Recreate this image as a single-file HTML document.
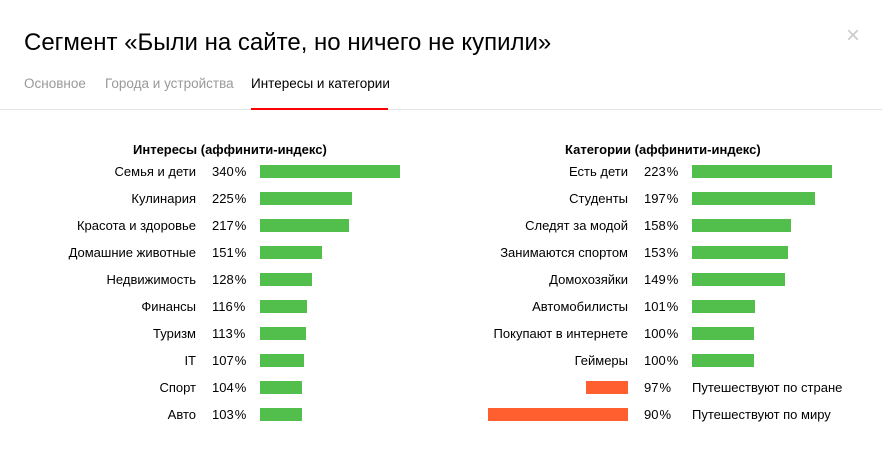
<!DOCTYPE html>
<html><head><meta charset="utf-8"><style>
body{margin:0;width:882px;height:456px;background:#fff;font-family:"Liberation Sans",Arial,sans-serif;color:#000;position:relative;overflow:hidden}
.a{position:absolute;white-space:nowrap}
.t{font-size:13px;line-height:16px}
.r{text-align:right}
.g{background:#52bf4c;height:13px;position:absolute}
.o{background:#ff5f2e;height:13px;position:absolute}
</style></head><body>
<div class="a" style="left:24px;top:28px;font-size:24px;line-height:30px">Сегмент «Были на сайте, но ничего не купили»</div>
<div class="a" style="left:846px;top:22px;font-size:24px;color:#ccc">×</div>
<div class="a" style="left:24px;top:76px;font-size:13.5px;color:#999">Основное</div>
<div class="a" style="left:105px;top:76px;font-size:13.5px;color:#999">Города и устройства</div>
<div class="a" style="left:251px;top:76px;font-size:13.5px;color:#000">Интересы и категории</div>
<div class="a" style="left:0;top:109px;width:882px;height:1px;background:#e5e5e5"></div>
<div class="a" style="left:251px;top:108px;width:137px;height:2px;background:#f00"></div>
<div class="a t" style="left:133px;top:142px;font-weight:bold">Интересы (аффинити-индекс)</div>
<div class="a t" style="left:565px;top:142px;font-weight:bold">Категории (аффинити-индекс)</div>
<div id="c"></div>
<script>
var L=[["Семья и дети","340",140],["Кулинария","225",92],["Красота и здоровье","217",89],["Домашние животные","151",62],["Недвижимость","128",52],["Финансы","116",47],["Туризм","113",46],["IT","107",44],["Спорт","104",42],["Авто","103",42]];
var R=[["Есть дети","223",140],["Студенты","197",123],["Следят за модой","158",99],["Занимаются спортом","153",96],["Домохозяйки","149",93],["Автомобилисты","101",63],["Покупают в интернете","100",62],["Геймеры","100",62]];
var h="";
L.forEach(function(d,i){var y=165+i*27;
h+='<div class="a t r" style="right:686px;top:'+(y-1)+'px">'+d[0]+'</div><div class="a t" style="left:212px;top:'+(y-1)+'px">'+d[1]+'&#8202;%</div><div class="g" style="left:260px;top:'+y+'px;width:'+d[2]+'px"></div>';});
R.forEach(function(d,i){var y=165+i*27;
h+='<div class="a t r" style="right:254px;top:'+(y-1)+'px">'+d[0]+'</div><div class="a t" style="left:644px;top:'+(y-1)+'px">'+d[1]+'&#8202;%</div><div class="g" style="left:692px;top:'+y+'px;width:'+d[2]+'px"></div>';});
[["Путешествуют по стране","97",42],["Путешествуют по миру","90",140]].forEach(function(d,i){var y=381+i*27;
h+='<div class="o" style="left:'+(628-d[2])+'px;top:'+y+'px;width:'+d[2]+'px"></div><div class="a t" style="left:644px;top:'+(y-1)+'px">'+d[1]+'&#8202;%</div><div class="a t" style="left:692px;top:'+(y-1)+'px">'+d[0]+'</div>';});
document.getElementById("c").innerHTML=h;
</script>
</body></html>
